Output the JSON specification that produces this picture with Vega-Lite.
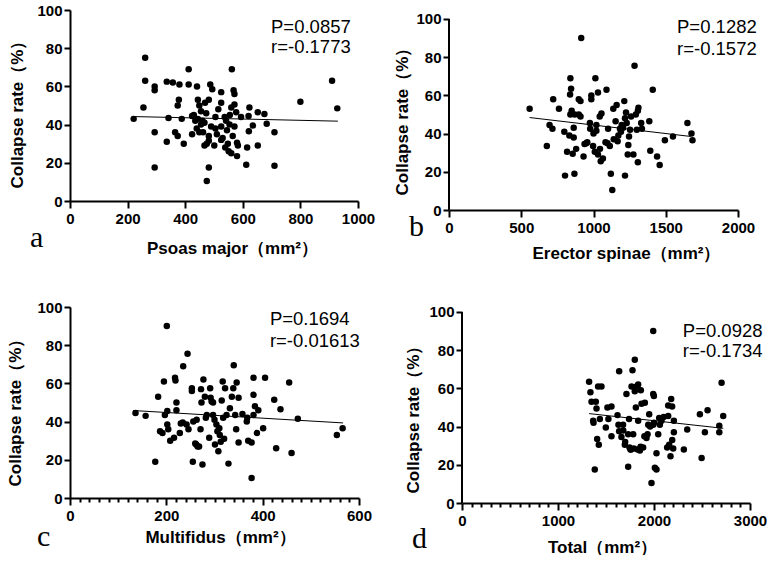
{
  "$schema": "https://vega.github.io/schema/vega-lite/v6.json",
  "background": "white",
  "padding": {"left": 6, "top": 3, "right": 0, "bottom": 0},
  "config": {
    "view": {"stroke": null},
    "font": "Liberation Sans",
    "axis": {"domainColor": "black", "domainWidth": 2, "tickColor": "black", "tickWidth": 2, "labelColor": "black", "labelFont": "Liberation Sans", "labelFontSize": 15, "labelFontWeight": "bold", "titleColor": "black", "titleFont": "Liberation Sans", "titleFontSize": 17, "titleFontWeight": "bold", "grid": false, "labelFlush": false, "labelOverlap": false, "labelBound": false, "tickCount": 100},
    "axisX": {"tickSize": 7, "labelPadding": 3},
    "axisY": {"tickSize": 6, "labelPadding": 2}
  },
  "spacing": 39,
  "vconcat": [
    {
      "spacing": 18,
      "hconcat": [
        {
          "width": 288, "height": 191,
          "data": {"values": [
            {"x":221,"y":43},{"x":261,"y":75},{"x":261,"y":63},{"x":255,"y":49},{"x":294,"y":60},{"x":294,"y":58},{"x":294,"y":36},{"x":294,"y":17.5},{"x":336,"y":62.5},{"x":342,"y":43.5},{"x":336,"y":31},{"x":357,"y":62},{"x":365,"y":36},{"x":374,"y":34},{"x":380,"y":61},{"x":378,"y":53},{"x":374,"y":50},{"x":388,"y":43},{"x":395,"y":30},{"x":412,"y":69},{"x":412,"y":61},{"x":441,"y":60},{"x":424,"y":44.5},{"x":424,"y":35},{"x":430,"y":45},{"x":444,"y":53},{"x":449,"y":50},{"x":444,"y":43},{"x":449,"y":36},{"x":455,"y":40},{"x":460,"y":42},{"x":469,"y":51.5},{"x":473,"y":46},{"x":467,"y":41},{"x":467,"y":29},{"x":475,"y":30},{"x":482,"y":53},{"x":487,"y":61},{"x":494,"y":58.5},{"x":490,"y":39},{"x":482,"y":34},{"x":482,"y":31.5},{"x":475,"y":10.5},{"x":482,"y":17.5},{"x":501,"y":29},{"x":525,"y":57},{"x":525,"y":51.5},{"x":525,"y":39},{"x":530,"y":33},{"x":525,"y":32},{"x":537,"y":44},{"x":542,"y":42},{"x":539,"y":28},{"x":551,"y":26},{"x":560,"y":25},{"x":554,"y":40},{"x":565,"y":34},{"x":571,"y":39},{"x":560,"y":49},{"x":568,"y":58},{"x":571,"y":56},{"x":562,"y":69},{"x":571,"y":50.5},{"x":577,"y":46.5},{"x":580,"y":30.5},{"x":583,"y":29},{"x":580,"y":23.5},{"x":594,"y":44},{"x":612,"y":19},{"x":615,"y":28},{"x":620,"y":44.5},{"x":623,"y":49},{"x":621,"y":36.5},{"x":635,"y":39.5},{"x":652,"y":46.5},{"x":652,"y":29},{"x":675,"y":45.5},{"x":683,"y":40.5},{"x":710,"y":36},{"x":710,"y":18.5},{"x":800,"y":52},{"x":910,"y":63},{"x":928,"y":48.5},{"x":435,"y":42},{"x":440,"y":38},{"x":455,"y":47},{"x":505,"y":38},{"x":510,"y":35},{"x":515,"y":48},{"x":545,"y":37},{"x":548,"y":30},{"x":555,"y":45},{"x":505,"y":44},{"x":462,"y":36}
          ]},
          "layer": [
            {"mark": {"type": "circle", "size": 42, "color": "black", "opacity": 1},
             "encoding": {
               "x": {"field": "x", "type": "quantitative", "scale": {"domain": [0, 1000], "nice": false, "zero": false},
                     "axis": {"values": [0, 200, 400, 600, 800, 1000], "format": "d", "tickCount": 100, "title": "Psoas major（mm²）", "titleX": 162, "titlePadding": 14}},
               "y": {"field": "y", "type": "quantitative", "scale": {"domain": [0, 100], "nice": false, "zero": false},
                     "axis": {"values": [0, 20, 40, 60, 80, 100], "format": "d", "tickCount": 100, "title": "Collapse rate（%）", "titleY": 100, "titlePadding": 10}}
             }},
            {"data": {"values": [{"x": 221, "y": 44.2}, {"x": 930, "y": 41.8}]},
             "mark": {"type": "line", "color": "black", "strokeWidth": 1},
             "encoding": {"x": {"field": "x", "type": "quantitative"}, "y": {"field": "y", "type": "quantitative"}}},
            {"data": {"values": [{}]},
             "mark": {"type": "text", "align": "left", "baseline": "middle", "fontSize": 18.5, "font": "Liberation Sans", "color": "black"},
             "encoding": {"x": {"datum": 698, "type": "quantitative"}, "y": {"datum": 91, "type": "quantitative"}, "text": {"value": "P=0.0857"}}},
            {"data": {"values": [{}]},
             "mark": {"type": "text", "align": "left", "baseline": "middle", "fontSize": 18.5, "font": "Liberation Sans", "color": "black"},
             "encoding": {"x": {"datum": 698, "type": "quantitative"}, "y": {"datum": 80.5, "type": "quantitative"}, "text": {"value": "r=-0.1773"}}},
            {"data": {"values": [{}]},
             "mark": {"type": "text", "align": "left", "baseline": "alphabetic", "fontSize": 30, "font": "Liberation Serif", "color": "black"},
             "encoding": {"x": {"datum": -139, "type": "quantitative"}, "y": {"datum": -24, "type": "quantitative"}, "text": {"value": "a"}}}
          ]
        },
        {
          "width": 289, "height": 200,
          "data": {"values": [
            {"x":558,"y":53},{"x":677,"y":33.5},{"x":696,"y":44.5},{"x":716,"y":42.5},{"x":721,"y":58},{"x":761,"y":53},{"x":798,"y":41},{"x":803,"y":18},{"x":817,"y":30.5},{"x":833,"y":39},{"x":840,"y":69},{"x":845,"y":63.5},{"x":838,"y":60.5},{"x":840,"y":50},{"x":849,"y":52},{"x":863,"y":38},{"x":863,"y":43},{"x":868,"y":19},{"x":856,"y":29.5},{"x":880,"y":32},{"x":898,"y":58},{"x":910,"y":57},{"x":898,"y":50},{"x":910,"y":49},{"x":915,"y":90},{"x":931,"y":28},{"x":938,"y":34.5},{"x":957,"y":35.5},{"x":985,"y":60},{"x":975,"y":45.5},{"x":977,"y":42.5},{"x":985,"y":58},{"x":997,"y":33.5},{"x":1009,"y":30.5},{"x":1020,"y":44.5},{"x":1020,"y":41.5},{"x":1013,"y":69},{"x":1031,"y":61.5},{"x":1043,"y":49},{"x":1031,"y":29},{"x":1050,"y":25.5},{"x":1055,"y":50.5},{"x":1083,"y":35.5},{"x":1090,"y":63},{"x":1101,"y":42.5},{"x":1097,"y":35},{"x":1120,"y":19},{"x":1130,"y":10.5},{"x":1113,"y":33.5},{"x":1137,"y":53},{"x":1153,"y":46.5},{"x":1160,"y":55},{"x":1167,"y":36},{"x":1172,"y":39},{"x":1183,"y":42.5},{"x":1195,"y":44.5},{"x":1213,"y":57},{"x":1218,"y":18},{"x":1218,"y":48},{"x":1230,"y":45.5},{"x":1237,"y":29},{"x":1241,"y":34},{"x":1246,"y":38.5},{"x":1253,"y":42},{"x":1260,"y":49},{"x":1276,"y":29},{"x":1284,"y":75.5},{"x":1293,"y":50},{"x":1307,"y":52},{"x":1311,"y":53.5},{"x":1307,"y":25},{"x":1330,"y":45.5},{"x":1335,"y":42.5},{"x":1386,"y":46.5},{"x":1393,"y":31},{"x":1410,"y":63},{"x":1440,"y":28},{"x":1458,"y":23.5},{"x":1494,"y":36.5},{"x":1550,"y":38.5},{"x":1650,"y":45.5},{"x":1678,"y":40},{"x":1685,"y":36.5},{"x":1000,"y":40},{"x":1065,"y":27},{"x":1190,"y":41},{"x":1205,"y":43},{"x":950,"y":35},{"x":1045,"y":32},{"x":1140,"y":37},{"x":1225,"y":51},{"x":1300,"y":42},{"x":870,"y":50}
          ]},
          "layer": [
            {"mark": {"type": "circle", "size": 42, "color": "black", "opacity": 1},
             "encoding": {
               "x": {"field": "x", "type": "quantitative", "scale": {"domain": [0, 2000], "nice": false, "zero": false},
                     "axis": {"values": [0, 500, 1000, 1500, 2000], "format": "d", "tickCount": 100, "title": "Erector spinae（mm²）", "titleX": 177, "titlePadding": 10}},
               "y": {"field": "y", "type": "quantitative", "scale": {"domain": [0, 104.7], "nice": false, "zero": false},
                     "axis": {"values": [0, 20, 40, 60, 80, 100], "format": "d", "tickCount": 100, "domain": false, "title": "Collapse rate（%）", "titleY": 107, "titlePadding": 4}}
             }},
            {"data": {"values": [{}]},
             "mark": {"type": "rule", "color": "black", "strokeWidth": 2},
             "encoding": {"x": {"datum": 0, "type": "quantitative"}, "y": {"datum": 0, "type": "quantitative"}, "y2": {"datum": 100}}},
            {"data": {"values": [{"x": 558, "y": 48.4}, {"x": 1673, "y": 38.5}]},
             "mark": {"type": "line", "color": "black", "strokeWidth": 1},
             "encoding": {"x": {"field": "x", "type": "quantitative"}, "y": {"field": "y", "type": "quantitative"}}},
            {"data": {"values": [{}]},
             "mark": {"type": "text", "align": "left", "baseline": "middle", "fontSize": 18.5, "font": "Liberation Sans", "color": "black"},
             "encoding": {"x": {"datum": 1578, "type": "quantitative"}, "y": {"datum": 95.8, "type": "quantitative"}, "text": {"value": "P=0.1282"}}},
            {"data": {"values": [{}]},
             "mark": {"type": "text", "align": "left", "baseline": "middle", "fontSize": 18.5, "font": "Liberation Sans", "color": "black"},
             "encoding": {"x": {"datum": 1578, "type": "quantitative"}, "y": {"datum": 84.3, "type": "quantitative"}, "text": {"value": "r=-0.1572"}}},
            {"data": {"values": [{}]},
             "mark": {"type": "text", "align": "left", "baseline": "alphabetic", "fontSize": 30, "font": "Liberation Serif", "color": "black"},
             "encoding": {"x": {"datum": -277, "type": "quantitative"}, "y": {"datum": -13.6, "type": "quantitative"}, "text": {"value": "b"}}}
          ]
        }
      ]
    },
    {
      "spacing": 32,
      "hconcat": [
        {
          "width": 289, "height": 191,
          "data": {"values": [
            {"x":136,"y":44.5},{"x":157,"y":43},{"x":177,"y":19},{"x":183,"y":53},{"x":187,"y":35},{"x":192,"y":34},{"x":195,"y":61},{"x":197,"y":43.5},{"x":201,"y":90},{"x":202,"y":45.5},{"x":202,"y":38.5},{"x":204,"y":36},{"x":208,"y":30},{"x":216,"y":31.5},{"x":218,"y":63},{"x":219,"y":61.5},{"x":221,"y":50},{"x":221,"y":46},{"x":228,"y":34},{"x":235,"y":69},{"x":234,"y":39.5},{"x":244,"y":75.5},{"x":242,"y":38.5},{"x":246,"y":36},{"x":253,"y":57.5},{"x":253,"y":56},{"x":255,"y":19},{"x":256,"y":40},{"x":262,"y":28},{"x":263,"y":41},{"x":265,"y":27},{"x":268,"y":27},{"x":271,"y":36},{"x":272,"y":57},{"x":273,"y":50},{"x":275,"y":17.5},{"x":277,"y":62},{"x":280,"y":53},{"x":282,"y":42},{"x":284,"y":43.5},{"x":289,"y":31.5},{"x":291,"y":57.5},{"x":292,"y":52.5},{"x":294,"y":50.5},{"x":297,"y":50},{"x":297,"y":43.5},{"x":301,"y":28},{"x":304,"y":38.5},{"x":308,"y":24.5},{"x":310,"y":36.5},{"x":311,"y":33},{"x":313,"y":29.5},{"x":315,"y":51},{"x":317,"y":61},{"x":318,"y":42},{"x":322,"y":57.5},{"x":325,"y":43.5},{"x":329,"y":18},{"x":332,"y":47},{"x":336,"y":53},{"x":339,"y":57.5},{"x":340,"y":69.5},{"x":343,"y":43.5},{"x":345,"y":36},{"x":346,"y":60.5},{"x":350,"y":52.5},{"x":350,"y":29},{"x":367,"y":40},{"x":368,"y":42},{"x":370,"y":30},{"x":377,"y":10.5},{"x":377,"y":29},{"x":381,"y":63},{"x":381,"y":54},{"x":381,"y":43.5},{"x":384,"y":48},{"x":388,"y":34},{"x":391,"y":46},{"x":401,"y":36.5},{"x":405,"y":63},{"x":424,"y":51.5},{"x":428,"y":26},{"x":437,"y":46.5},{"x":455,"y":60.5},{"x":460,"y":23.5},{"x":473,"y":41.5},{"x":554,"y":33},{"x":566,"y":36.5},{"x":230,"y":39},{"x":260,"y":28.5},{"x":306,"y":35},{"x":320,"y":31},{"x":358,"y":44},{"x":300,"y":41}
          ]},
          "layer": [
            {"mark": {"type": "circle", "size": 42, "color": "black", "opacity": 1},
             "encoding": {
               "x": {"field": "x", "type": "quantitative", "scale": {"domain": [0, 600], "nice": false, "zero": false},
                     "axis": {"values": [0,20,40,60,80,100,120,140,160,180,200,220,240,260,280,300,320,340,360,380,400,420,440,460,480,500,520,540,560,580,600],
                              "format": "d", "tickCount": 100,
                              "labelExpr": "datum.value % 200 === 0 ? datum.label : ''",
                              "tickSize": {"condition": {"test": "datum.value % 200 === 0", "value": 7}, "value": 4},
                              "title": "Multifidus（mm²）", "titleX": 150, "titlePadding": 6}},
               "y": {"field": "y", "type": "quantitative", "scale": {"domain": [0, 100], "nice": false, "zero": false},
                     "axis": {"values": [0, 20, 40, 60, 80, 100], "format": "d", "tickCount": 100, "title": "Collapse rate（%）", "titleY": 101, "titlePadding": 12}}
             }},
            {"data": {"values": [{"x": 131, "y": 45.8}, {"x": 567, "y": 39.3}]},
             "mark": {"type": "line", "color": "black", "strokeWidth": 1},
             "encoding": {"x": {"field": "x", "type": "quantitative"}, "y": {"field": "y", "type": "quantitative"}}},
            {"data": {"values": [{}]},
             "mark": {"type": "text", "align": "left", "baseline": "middle", "fontSize": 18.5, "font": "Liberation Sans", "color": "black"},
             "encoding": {"x": {"datum": 415, "type": "quantitative"}, "y": {"datum": 93.7, "type": "quantitative"}, "text": {"value": "P=0.1694"}}},
            {"data": {"values": [{}]},
             "mark": {"type": "text", "align": "left", "baseline": "middle", "fontSize": 18.5, "font": "Liberation Sans", "color": "black"},
             "encoding": {"x": {"datum": 415, "type": "quantitative"}, "y": {"datum": 82.2, "type": "quantitative"}, "text": {"value": "r=-0.01613"}}},
            {"data": {"values": [{}]},
             "mark": {"type": "text", "align": "left", "baseline": "alphabetic", "fontSize": 30, "font": "Liberation Serif", "color": "black"},
             "encoding": {"x": {"datum": -68.5, "type": "quantitative"}, "y": {"datum": -25, "type": "quantitative"}, "text": {"value": "c"}}}
          ]
        },
        {
          "width": 288, "height": 196,
          "data": {"values": [
            {"x":1324,"y":63.5},{"x":1338,"y":58},{"x":1349,"y":53},{"x":1366,"y":43},{"x":1383,"y":17.5},{"x":1394,"y":53},{"x":1401,"y":49.5},{"x":1408,"y":33.5},{"x":1418,"y":61},{"x":1425,"y":30.5},{"x":1436,"y":44},{"x":1453,"y":61},{"x":1498,"y":39.5},{"x":1515,"y":50},{"x":1525,"y":44},{"x":1557,"y":50.5},{"x":1557,"y":35},{"x":1620,"y":46},{"x":1630,"y":41},{"x":1637,"y":69},{"x":1637,"y":37.5},{"x":1661,"y":34.5},{"x":1678,"y":41},{"x":1696,"y":30.5},{"x":1713,"y":57},{"x":1731,"y":19},{"x":1731,"y":36},{"x":1755,"y":28},{"x":1766,"y":61},{"x":1776,"y":69.5},{"x":1783,"y":36},{"x":1800,"y":75},{"x":1800,"y":58.5},{"x":1811,"y":50},{"x":1818,"y":61},{"x":1835,"y":62},{"x":1835,"y":43},{"x":1853,"y":27.5},{"x":1863,"y":59},{"x":1870,"y":52},{"x":1887,"y":29},{"x":1905,"y":52.5},{"x":1922,"y":34},{"x":1933,"y":36},{"x":1940,"y":41},{"x":1950,"y":46.5},{"x":1974,"y":10.5},{"x":1992,"y":90},{"x":1992,"y":57},{"x":1992,"y":41},{"x":1999,"y":56},{"x":2009,"y":18.5},{"x":2026,"y":26},{"x":2026,"y":17.5},{"x":2044,"y":36},{"x":2054,"y":44.5},{"x":2061,"y":41},{"x":2078,"y":43},{"x":2137,"y":29},{"x":2148,"y":45.5},{"x":2148,"y":51},{"x":2158,"y":30.5},{"x":2172,"y":24.5},{"x":2179,"y":54.5},{"x":2189,"y":50.5},{"x":2200,"y":28.5},{"x":2207,"y":43},{"x":2207,"y":37},{"x":2311,"y":28},{"x":2346,"y":38.5},{"x":2496,"y":23.5},{"x":2478,"y":46.5},{"x":2530,"y":37},{"x":2558,"y":48.5},{"x":2680,"y":37},{"x":2680,"y":40.5},{"x":2704,"y":63},{"x":2721,"y":45.5},{"x":1370,"y":42},{"x":1700,"y":32},{"x":1745,"y":29},{"x":1760,"y":28},{"x":1790,"y":28.5},{"x":1830,"y":28},{"x":1860,"y":29.5},{"x":1900,"y":35},{"x":1960,"y":40},{"x":2100,"y":45},{"x":2000,"y":42},{"x":2190,"y":33},{"x":1680,"y":38},{"x":1740,"y":44}
          ]},
          "layer": [
            {"mark": {"type": "circle", "size": 42, "color": "black", "opacity": 1},
             "encoding": {
               "x": {"field": "x", "type": "quantitative", "scale": {"domain": [0, 3000], "nice": false, "zero": false},
                     "axis": {"values": [0,100,200,300,400,500,600,700,800,900,1000,1100,1200,1300,1400,1500,1600,1700,1800,1900,2000,2100,2200,2300,2400,2500,2600,2700,2800,2900,3000],
                              "format": "d", "tickCount": 100,
                              "labelExpr": "datum.value % 1000 === 0 ? datum.label : ''",
                              "tickSize": {"condition": {"test": "datum.value % 1000 === 0", "value": 7}, "value": 4},
                              "title": "Total（mm²）", "titleX": 140, "titlePadding": 11}},
               "y": {"field": "y", "type": "quantitative", "scale": {"domain": [0, 102.6], "nice": false, "zero": false},
                     "axis": {"values": [0, 20, 40, 60, 80, 100], "format": "d", "tickCount": 100, "domain": false, "title": "Collapse rate（%）", "titleY": 108, "titlePadding": 6}}
             }},
            {"data": {"values": [{}]},
             "mark": {"type": "rule", "color": "black", "strokeWidth": 2},
             "encoding": {"x": {"datum": 0, "type": "quantitative"}, "y": {"datum": 0, "type": "quantitative"}, "y2": {"datum": 100}}},
            {"data": {"values": [{"x": 1324, "y": 46.8}, {"x": 2722, "y": 39.1}]},
             "mark": {"type": "line", "color": "black", "strokeWidth": 1},
             "encoding": {"x": {"field": "x", "type": "quantitative"}, "y": {"field": "y", "type": "quantitative"}}},
            {"data": {"values": [{}]},
             "mark": {"type": "text", "align": "left", "baseline": "middle", "fontSize": 18.5, "font": "Liberation Sans", "color": "black"},
             "encoding": {"x": {"datum": 2300, "type": "quantitative"}, "y": {"datum": 90, "type": "quantitative"}, "text": {"value": "P=0.0928"}}},
            {"data": {"values": [{}]},
             "mark": {"type": "text", "align": "left", "baseline": "middle", "fontSize": 18.5, "font": "Liberation Sans", "color": "black"},
             "encoding": {"x": {"datum": 2300, "type": "quantitative"}, "y": {"datum": 79.6, "type": "quantitative"}, "text": {"value": "r=-0.1734"}}},
            {"data": {"values": [{}]},
             "mark": {"type": "text", "align": "left", "baseline": "alphabetic", "fontSize": 30, "font": "Liberation Serif", "color": "black"},
             "encoding": {"x": {"datum": -521, "type": "quantitative"}, "y": {"datum": -23.6, "type": "quantitative"}, "text": {"value": "d"}}}
          ]
        }
      ]
    }
  ]
}
